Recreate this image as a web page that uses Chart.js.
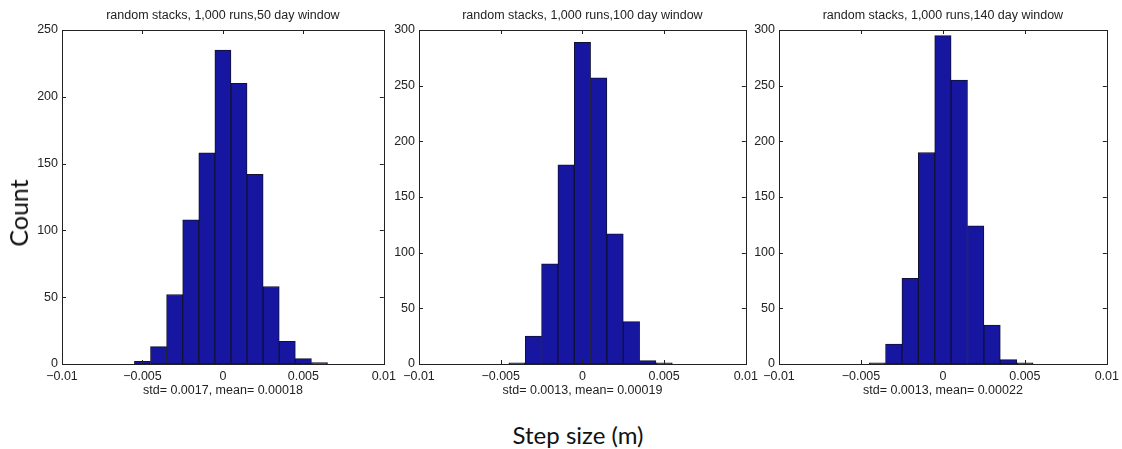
<!DOCTYPE html>
<html>
<head>
<meta charset="utf-8">
<script src="https://cdn.jsdelivr.net/npm/chart.js@4/dist/chart.umd.min.js"></script>
<style>
  html, body { margin: 0; padding: 0; background: #fff; }
  body { width: 1122px; height: 449px; position: relative; overflow: hidden; }
  canvas { position: absolute; top: 0; }
  .label { position: absolute; font-family: Lato, "Open Sans", sans-serif; color: #111; white-space: nowrap; }
  #ylab { left: 18px; top: 213px; font-size: 25px; transform: translate(-50%, -50%) rotate(-90deg); }
  #xlab { left: 578px; top: 434px; font-size: 24px; transform: translate(-50%, -50%); }
</style>
</head>
<body>
<canvas id="h50"></canvas>
<canvas id="h100"></canvas>
<canvas id="h140"></canvas>
<div class="label" id="ylab">Count</div>
<div class="label" id="xlab">Step size (m)</div>
<script>
// bin centres (m) and counts per window length
const bins50 = [-0.005, -0.004, -0.003, -0.002, -0.001, 0, 0.001, 0.002, 0.003, 0.004, 0.005, 0.006];
const counts50 = [2, 13, 52, 108, 158, 235, 210, 142, 58, 17, 4, 1];

const bins100 = [-0.004, -0.003, -0.002, -0.001, 0, 0.001, 0.002, 0.003, 0.004, 0.005];
const counts100 = [1, 25, 90, 179, 289, 257, 117, 38, 3, 1];

const bins140 = [-0.004, -0.003, -0.002, -0.001, 0, 0.001, 0.002, 0.003, 0.004, 0.005];
const counts140 = [1, 18, 77, 190, 295, 255, 124, 35, 4, 1];

const titles = [
    'random stacks, 1,000 runs,50 day window',
    'random stacks, 1,000 runs,100 day window',
    'random stacks, 1,000 runs,140 day window'
];
const statLabels = [
    'std= 0.0017, mean= 0.00018',
    'std= 0.0013, mean= 0.00019',
    'std= 0.0013, mean= 0.00022'
];
const yMax = [250, 300, 300];

const FONT = '"Liberation Sans", Arial, Helvetica, sans-serif';
const FS = 12.5;
const TEXT = '#222';
const BAR_FILL = '#1616a0';
const BAR_EDGE = '#111133';

// plot-area left/right edges on the page
const plotLeft = [62, 419, 779];
const plotRight = [385, 747, 1108];
const AXIS_W = 45;
const PAD_R = 16;
const H = 405;

// matlab-style box with inward tick marks on all four sides
const boxAxes = {
    id: 'boxAxes',
    afterDatasetsDraw(chart) {
        const { ctx, chartArea: a, scales: { x, y } } = chart;
        const tl = 4;
        ctx.save();
        ctx.strokeStyle = '#222';
        ctx.lineWidth = 1;
        ctx.beginPath();
        x.ticks.forEach(t => {
            const px = Math.round(x.getPixelForValue(t.value)) + 0.5;
            ctx.moveTo(px, a.bottom); ctx.lineTo(px, a.bottom - tl);
            ctx.moveTo(px, a.top); ctx.lineTo(px, a.top + tl);
        });
        y.ticks.forEach(t => {
            const py = Math.round(y.getPixelForValue(t.value)) + 0.5;
            ctx.moveTo(a.left, py); ctx.lineTo(a.left + tl, py);
            ctx.moveTo(a.right, py); ctx.lineTo(a.right - tl, py);
        });
        ctx.stroke();
        ctx.strokeRect(Math.round(a.left) + 0.5, Math.round(a.top) + 0.5,
            Math.round(a.right - a.left), Math.round(a.bottom - a.top));
        ctx.restore();
    }
};

function fmt(v) {
    const n = +v.toFixed(4);
    return n === 0 ? '0' : String(n).replace('-', '\u2212');
}

function makeHist(id, idx, bins, counts) {
    const canvas = document.getElementById(id);
    const w = plotRight[idx] - plotLeft[idx] + AXIS_W + PAD_R;
    canvas.width = w;
    canvas.height = H;
    canvas.style.left = (plotLeft[idx] - AXIS_W) + 'px';

    return new Chart(canvas.getContext('2d'), {
        type: 'bar',
        data: {
            datasets: [{
                data: bins.map((b, i) => ({ x: b, y: counts[i] })),
                backgroundColor: BAR_FILL,
                borderColor: BAR_EDGE,
                borderWidth: 1,
                borderSkipped: false,
                barPercentage: 1,
                categoryPercentage: 1
            }]
        },
        options: {
            responsive: false,
            animation: false,
            layout: { padding: { left: 0, right: PAD_R, top: 0, bottom: 0 } },
            scales: {
                x: {
                    type: 'linear',
                    min: -0.01,
                    max: 0.01,
                    offset: false,
                    grid: { display: false, tickLength: 0 },
                    border: { display: false },
                    ticks: {
                        stepSize: 0.005,
                        autoSkip: false,
                        maxRotation: 0,
                        padding: 5,
                        color: TEXT,
                        font: { family: FONT, size: FS },
                        callback: v => fmt(v)
                    },
                    title: {
                        display: true,
                        text: statLabels[idx],
                        color: TEXT,
                        font: { family: FONT, size: FS },
                        padding: { top: 0, bottom: 7 }
                    },
                    afterFit(scale) { scale.height = H - 364; }
                },
                y: {
                    min: 0,
                    max: yMax[idx],
                    grid: { display: false, tickLength: 0 },
                    border: { display: false },
                    ticks: {
                        stepSize: 50,
                        padding: 4,
                        color: TEXT,
                        font: { family: FONT, size: FS }
                    },
                    afterFit(scale) { scale.width = AXIS_W; }
                }
            },
            plugins: {
                legend: { display: false },
                tooltip: { enabled: false },
                title: {
                    display: true,
                    fullSize: false,
                    text: titles[idx],
                    color: TEXT,
                    font: { family: FONT, size: FS, weight: 'normal' },
                    padding: { top: 8, bottom: 7 }
                }
            }
        },
        plugins: [boxAxes]
    });
}

makeHist('h50', 0, bins50, counts50);
makeHist('h100', 1, bins100, counts100);
makeHist('h140', 2, bins140, counts140);
</script>
</body>
</html>
